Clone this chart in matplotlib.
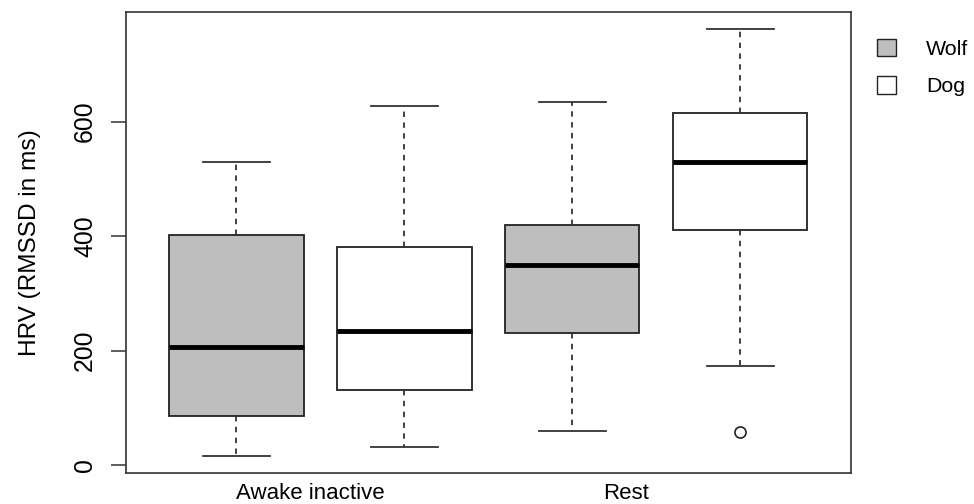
import matplotlib.pyplot as plt
from matplotlib.patches import Patch

plt.rcParams['font.family'] = ['Liberation Sans', 'DejaVu Sans']

# box statistics (HRV, RMSSD in ms)
groups = ['Wolf', 'Dog', 'Wolf', 'Dog']
conditions = ['Awake inactive', 'Rest']
whislo = [16, 31, 60, 173]
q1 = [86, 132, 231, 411]
med = [206, 235, 349, 530]
q3 = [402, 381, 420, 616]
whishi = [529, 627, 634, 761]
fliers = [[], [], [], [58]]
fill = {'Wolf': '#bebebe', 'Dog': 'white'}

stats = []
for i in range(4):
    stats.append(dict(whislo=whislo[i], q1=q1[i], med=med[i], q3=q3[i],
                      whishi=whishi[i], fliers=fliers[i]))

fig = plt.figure(figsize=(9.74, 5.04), dpi=100)
ax = fig.add_axes([0.129, 0.061, 0.7447, 0.9146])

bp = ax.bxp(stats, positions=[1, 2, 3, 4], widths=0.8, patch_artist=True,
            boxprops=dict(edgecolor='#222222', linewidth=1.3),
            medianprops=dict(color='black', linewidth=3.5, solid_capstyle='butt'),
            whiskerprops=dict(color='#333333', linewidth=1.3, linestyle=(0, (3, 3))),
            capprops=dict(color='#333333', linewidth=1.3),
            flierprops=dict(marker='o', markersize=8, markerfacecolor='none',
                            markeredgecolor='#222222', markeredgewidth=1.2),
            capwidths=0.4)
for patch, g in zip(bp['boxes'], groups):
    patch.set_facecolor(fill[g])

ax.set_xlim(0.34, 4.66)
ax.set_ylim(-14, 791)
ax.set_yticks([0, 200, 400, 600])
ax.set_yticklabels(['0', '200', '400', '600'], rotation=90, va='center')
# labels sit a bit left of the group centres in the original
ax.set_xticks([1.44, 3.32])
ax.set_xticklabels(conditions)
ax.tick_params(axis='y', length=10.5, width=1.1, pad=10, labelsize=17.8, color='#333333')
ax.tick_params(axis='x', length=0, pad=7, labelsize=16)
ax.set_ylabel('HRV (RMSSD in ms)', fontsize=17.6, labelpad=23)
for s in ax.spines.values():
    s.set_linewidth(1.2)
    s.set_color('#333333')

handles = [Patch(facecolor=fill['Wolf'], edgecolor='#222222', label='Wolf'),
           Patch(facecolor=fill['Dog'], edgecolor='#222222', label='Dog')]
fig.legend(handles=handles, loc='upper left', bbox_to_anchor=(0.9004, 0.923),
           frameon=False, fontsize=15.4, handlelength=0.89, handleheight=0.89,
           handletextpad=1.42, labelspacing=0.79, borderpad=0, borderaxespad=0)

fig.savefig('out.png', dpi=100)
